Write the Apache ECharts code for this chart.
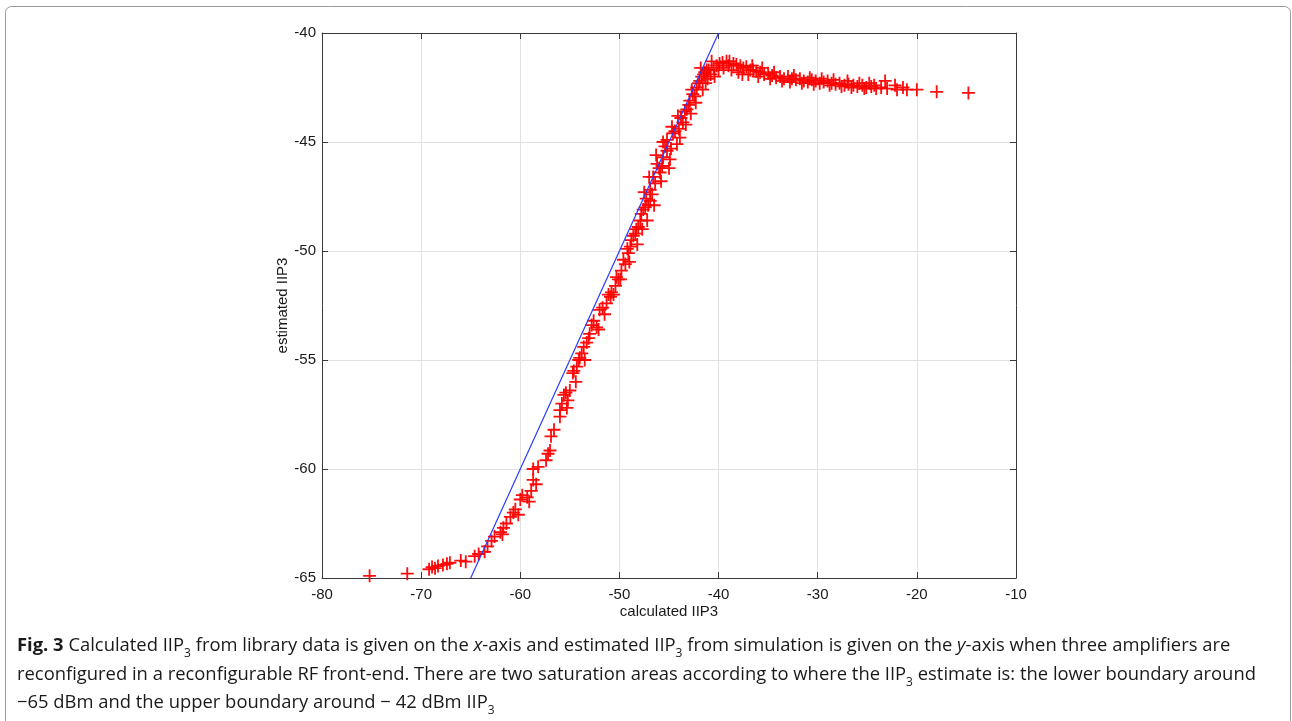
<!DOCTYPE html>
<html>
<head>
<meta charset="utf-8">
<script src="https://cdn.jsdelivr.net/npm/echarts@6/dist/echarts.min.js"></script>
<style>
html,body{margin:0;padding:0;background:#fff;}
#chart{width:1292px;height:721px;}
</style>
</head>
<body>
<div id="chart"></div>
<script>
// Axis ticks
const xTicks = [-80, -70, -60, -50, -40, -30, -20, -10];
const yTicks = [-65, -60, -55, -50, -45, -40];

// Reference line (estimated = calculated)
const refLineX = [-65, -40];
const refLineY = [-65, -40];

// Scatter points: [calculated IIP3, estimated IIP3]
const iip3Points = [
  [-75.2,-64.9],[-71.4,-64.8],[-69.2,-64.6],[-68.9,-64.5],[-68.6,-64.55],[-68.3,-64.45],[-67.8,-64.4],[-67.4,-64.35],[-67.1,-64.3],
  [-66.0,-64.2],[-65.5,-64.25],[-64.6,-64.0],[-64.2,-63.9],[-63.6,-63.8],[-63.3,-63.55],[-62.9,-63.3],[-62.6,-63.1],[-62.0,-62.9],
  [-61.7,-62.7],[-61.4,-62.5],[-61.0,-62.2],[-60.7,-62.0],[-60.5,-61.85],[-60.0,-61.4],[-59.8,-61.2],[-59.1,-61.5],[-58.9,-61.0],
  [-58.7,-60.5],[-58.4,-60.7],[-58.7,-60.0],[-58.2,-59.9],[-57.2,-59.3],[-57.0,-59.15],[-56.9,-58.5],[-56.6,-58.2],[-56.0,-57.6],
  [-56.0,-57.3],[-55.4,-56.5],[-55.2,-56.85],[-55.0,-56.4],[-54.7,-55.6],[-54.3,-55.3],[-54.1,-55.0],[-54.6,-55.5],[-54.0,-54.9],
  [-53.6,-54.4],[-53.3,-54.2],[-53.0,-53.8],[-52.3,-53.5],[-52.6,-53.2],[-52.0,-52.7],[-51.3,-52.4],[-50.9,-52.1],[-50.8,-51.9],
  [-50.4,-51.6],[-50.1,-51.3],[-49.8,-50.9],[-49.4,-50.6],[-49.1,-50.1],[-48.9,-49.8],[-48.8,-49.5],[-48.4,-49.2],[-48.1,-48.9],
  [-47.9,-48.6],[-47.8,-48.3],[-47.4,-48.0],[-46.9,-47.7],[-47.3,-47.6],[-46.9,-47.2],[-46.6,-46.6],[-45.9,-46.4],[-46.2,-46.0],
  [-45.6,-45.7],[-45.2,-45.4],[-44.9,-45.8],[-45.2,-44.9],[-44.6,-44.6],[-44.2,-45.1],[-44.1,-43.8],[-43.6,-44.1],[-43.2,-43.5],
  [-42.9,-43.1],[-42.6,-42.8],[-42.2,-42.5],[-41.9,-42.2],[-41.5,-41.9],[-41.2,-41.7],[-40.5,-41.6],[-39.9,-41.4],[-39.2,-41.3],
  [-38.5,-41.4],[-37.8,-41.5],[-37.2,-41.55],[-36.5,-41.7],
  [-55.6,-56.6],[-55.8,-57.0],[-53.8,-54.7],[-53.1,-54.0],[-52.8,-53.4],[-51.7,-52.6],[-51.1,-52.0],[-50.3,-51.2],[-49.6,-50.4],
  [-49.2,-49.9],[-48.6,-49.3],[-48.3,-49.0],[-47.6,-48.1],[-47.1,-47.9],[-46.7,-47.4],[-46.4,-46.9],[-46.0,-46.2],[-45.7,-46.1],
  [-45.4,-45.2],[-44.8,-45.3],[-44.4,-44.5],[-44.0,-44.4],[-43.8,-43.9],[-43.4,-43.6],[-43.0,-43.3],[-42.7,-42.6],[-42.4,-42.9],
  [-42.0,-42.3],[-41.7,-42.0],[-41.4,-41.8],[-41.0,-41.7],[-40.8,-41.9],[-40.2,-41.5],[-39.6,-41.35],[-38.9,-41.3],[-38.2,-41.45],
  [-37.5,-41.6],[-36.8,-41.7],[-36.2,-41.75],[-35.8,-41.8],[-35.4,-41.9],[-35.0,-41.85],[-34.6,-41.95],[-34.2,-42.05],[-33.8,-42.0],
  [-33.4,-42.1],[-33.0,-42.0],[-32.6,-42.1],[-32.2,-42.15],[-31.8,-42.1],[-31.4,-42.2],[-31.0,-42.25],[-30.6,-42.15],[-30.2,-42.2],
  [-29.8,-42.3],[-29.4,-42.25],[-29.0,-42.2],[-28.6,-42.3],[-28.2,-42.35],[-27.8,-42.3],[-27.3,-42.4],[-26.9,-42.35],[-26.4,-42.4],
  [-26.0,-42.45],[-25.5,-42.4],[-25.1,-42.5],[-24.6,-42.45],[-24.1,-42.55],[-23.6,-42.5],[-23.2,-42.2],[-23.0,-42.55],[-22.2,-42.4],
  [-22.0,-42.6],[-21.4,-42.5],[-21.0,-42.6],[-20.0,-42.6],[-18.0,-42.7],[-14.8,-42.75],
  [-41.8,-41.6],[-41.3,-42.3],[-40.7,-41.3],[-40.4,-42.0],[-40.0,-41.7],[-39.5,-41.6],[-39.0,-41.5],[-38.7,-41.7],[-38.0,-41.8],
  [-37.6,-41.9],[-37.0,-41.9],[-36.6,-41.5],[-36.0,-42.0],[-35.6,-41.6],[-34.8,-42.1],[-34.4,-41.8],[-33.6,-42.2],[-32.8,-42.25],
  [-32.4,-41.95],[-31.6,-42.3],[-30.8,-42.05],[-30.4,-42.35],[-29.6,-42.1],[-28.8,-42.4],[-28.4,-42.15],[-27.6,-42.45],[-27.0,-42.2],
  [-26.6,-42.5],[-25.8,-42.3],[-25.3,-42.55],[-24.8,-42.3],[-24.3,-42.4],
  [-45.6,-45.0],[-46.3,-45.6],[-47.0,-46.6],[-47.5,-47.3],
  [-44.7,-44.3],[-43.9,-44.8],[-43.3,-44.2],[-42.8,-43.7],[-42.3,-43.2],[-41.6,-42.6],[-41.1,-42.1],[-45.0,-46.2],[-45.8,-46.8],
  [-46.5,-47.9],[-47.2,-48.6],[-47.7,-49.0],[-48.2,-49.7],[-49.0,-50.5],[-49.9,-51.3],[-50.6,-52.0],[-51.5,-52.9],[-52.1,-53.6],
  [-53.5,-55.0],[-54.4,-56.0],[-55.3,-57.2],[-57.4,-59.6],[-59.3,-61.3],[-60.2,-62.1],[-61.8,-63.0]
];

const xAxisTitle = 'calculated IIP3';
const yAxisTitle = 'estimated IIP3';

const captionLines = [
  '{b|Fig. 3} Calculated IIP{s|3} from library data is given on the {i|x}-axis and estimated IIP{s|3} from simulation is given on the {i|y}-axis when three amplifiers are',
  'reconfigured in a reconfigurable RF front-end. There are two saturation areas according to where the IIP{s|3} estimate is: the lower boundary around',
  '\u221265 dBm and the upper boundary around \u2212 42 dBm IIP{s|3}'
];

const chart = echarts.init(document.getElementById('chart'), null, {renderer: 'canvas'});

const labelFont = {fontFamily: 'Liberation Sans', fontSize: 15, color: '#1a1a1a'};
const axisLineStyle = {color: '#3a3a3a', width: 1};
const plusPath = 'path://M8.6,0H11.4V8.6H20V11.4H11.4V20H8.6V11.4H0V8.6H8.6Z';

const capSize = 18.4;
const captionRich = {
  b: {fontWeight: 'bold', fontFamily: 'Open Sans', fontSize: capSize, fill: '#1a1a1a'},
  i: {fontStyle: 'italic', fontFamily: 'Open Sans', fontSize: capSize, fill: '#1a1a1a'},
  s: {fontFamily: 'Open Sans', fontSize: 12, fill: '#1a1a1a', verticalAlign: 'bottom', lineHeight: 19}
};
const captionY = [646, 675, 703];

const option = {
  backgroundColor: '#ffffff',
  animation: false,
  grid: {left: 322, right: 276, top: 33, bottom: 143, containLabel: false},
  xAxis: [{
    type: 'value', min: xTicks[0], max: xTicks[xTicks.length - 1], interval: 10,
    position: 'bottom',
    name: xAxisTitle, nameLocation: 'middle', nameGap: 26, nameMoveOverlap: false,
    nameTextStyle: labelFont,
    axisLine: {show: true, lineStyle: axisLineStyle},
    axisTick: {show: true, inside: true, length: 6, lineStyle: axisLineStyle},
    axisLabel: Object.assign({margin: 9}, labelFont),
    splitLine: {show: true, lineStyle: {color: '#e2e2e2', width: 1}}
  }, {
    type: 'value', min: xTicks[0], max: xTicks[xTicks.length - 1], interval: 10,
    position: 'top',
    axisLine: {show: true, onZero: false, lineStyle: axisLineStyle},
    axisTick: {show: true, inside: true, length: 6, lineStyle: axisLineStyle},
    axisLabel: {show: false},
    splitLine: {show: false}
  }],
  yAxis: [{
    type: 'value', min: yTicks[0], max: yTicks[yTicks.length - 1], interval: 5,
    position: 'left',
    name: yAxisTitle, nameLocation: 'middle', nameGap: 32, nameRotate: 90, nameMoveOverlap: false,
    nameTextStyle: labelFont,
    axisLine: {show: true, onZero: false, lineStyle: axisLineStyle},
    axisTick: {show: true, inside: true, length: 6, lineStyle: axisLineStyle},
    axisLabel: Object.assign({margin: 6}, labelFont),
    splitLine: {show: true, lineStyle: {color: '#e2e2e2', width: 1}}
  }, {
    type: 'value', min: yTicks[0], max: yTicks[yTicks.length - 1], interval: 5,
    position: 'right',
    axisLine: {show: true, onZero: false, lineStyle: axisLineStyle},
    axisTick: {show: true, inside: true, length: 6, lineStyle: axisLineStyle},
    axisLabel: {show: false},
    splitLine: {show: false}
  }],
  series: [{
    type: 'scatter',
    xAxisIndex: 0, yAxisIndex: 0,
    data: iip3Points,
    symbol: plusPath,
    symbolSize: 13,
    itemStyle: {color: '#ff0000', opacity: 0.95},
    z: 3
  }, {
    type: 'line',
    xAxisIndex: 0, yAxisIndex: 0,
    data: refLineX.map((x, i) => [x, refLineY[i]]),
    showSymbol: false,
    symbol: 'none',
    lineStyle: {color: '#2a3cff', width: 1.2},
    z: 4
  }],
  graphic: [{
    type: 'rect',
    shape: {x: 5.5, y: 6.5, width: 1285, height: 730, r: 6},
    style: {fill: 'none', stroke: '#9a9a9a', lineWidth: 1},
    silent: true
  }].concat(captionLines.map((t, i) => ({
    type: 'text',
    x: 17,
    y: captionY[i],
    silent: true,
    style: {
      text: t,
      fontFamily: 'Open Sans',
      fontSize: capSize,
      fill: '#1a1a1a',
      lineHeight: 28,
      verticalAlign: 'middle',
      rich: captionRich
    }
  })))
};

chart.setOption(option);
</script>
</body>
</html>
